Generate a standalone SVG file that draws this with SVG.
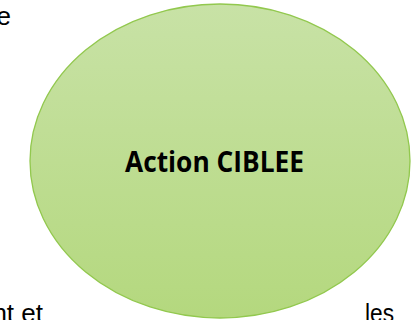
<svg xmlns="http://www.w3.org/2000/svg" width="419" height="320" viewBox="0 0 419 320">
<defs>
<linearGradient id="g" x1="0" y1="0" x2="0" y2="1">
<stop offset="0" stop-color="#c8e2a6"/>
<stop offset="1" stop-color="#b4d87e"/>
</linearGradient>
</defs>
<style>
.t{font-family:"Liberation Sans",Arial,sans-serif;font-size:26px;fill:#000}
.b{font-family:"Open Sans","Liberation Sans",sans-serif;font-size:28px;font-weight:bold;fill:#000}
</style>
<rect width="419" height="320" fill="#fff"/>
<text class="t" x="11" y="25" text-anchor="end">e</text>
<text class="t" x="43" y="322" text-anchor="end">nt et</text>
<text class="t" x="365" y="322" textLength="29" lengthAdjust="spacingAndGlyphs">les</text>
<g id="node-action">
<ellipse cx="220" cy="161" rx="190" ry="157" fill="url(#g)" stroke="#92c84e" stroke-width="1.3"/>
<text class="b" x="125" y="172" textLength="179" lengthAdjust="spacingAndGlyphs">Action CIBLEE</text>
</g>
<g id="connectors"/>
</svg>
